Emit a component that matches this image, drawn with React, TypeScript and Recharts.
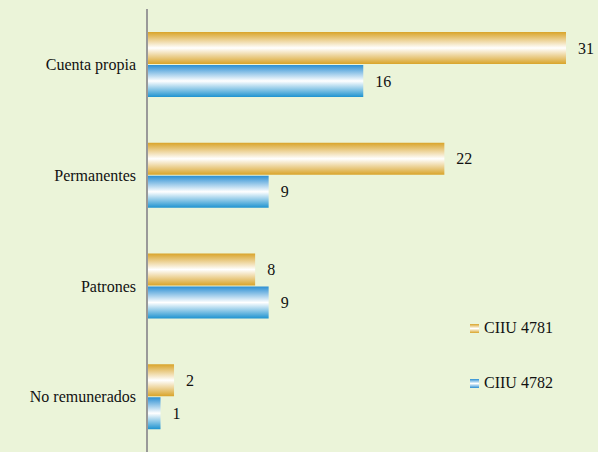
import { Bar, BarChart, LabelList, XAxis, YAxis } from 'recharts'

const categories = ['Cuenta propia', 'Permanentes', 'Patrones', 'No remunerados']
const ciiu4781 = [31, 22, 8, 2]
const ciiu4782 = [16, 9, 9, 1]
const seriesNames = ['CIIU 4781', 'CIIU 4782']
const seriesColors = ['#D9A42A', '#2C8FD3']

const data = categories.map((name, i) => ({
  name,
  a: ciiu4781[i],
  b: ciiu4782[i],
}))

const font = '"Liberation Serif", "DejaVu Serif", serif'

// legend drawn outside the chart so it doesn't shrink the plot
const LegendBox = () => (
  <div style={{ position: 'absolute', left: 470, top: 318, fontFamily: font, fontSize: 16, color: '#111' }}>
    {seriesNames.map((s, i) => (
      <div key={s} style={{ display: 'flex', alignItems: 'center', height: 20, marginBottom: i === 0 ? 35 : 0 }}>
        <div
          style={{
            width: 9,
            height: 9,
            marginRight: 5,
            background: `linear-gradient(${seriesColors[i]}, #fff, ${seriesColors[i]})`,
          }}
        />
        {s}
      </div>
    ))}
  </div>
)

const App = () => (
  <div style={{ position: 'absolute', left: 0, top: 0, width: 598, height: 452, background: '#EBF4D9' }}>
    <BarChart
      width={598}
      height={452}
      data={data}
      layout='vertical'
      barGap={1}
      barSize={32}
      margin={{ top: 9, right: 32, left: 0, bottom: 0 }}
      style={{ fontFamily: font }}>
      <defs>
        <linearGradient id='gOrange' x1='0' y1='0' x2='0' y2='1'>
          <stop offset='0%' stopColor='#D9A42A' />
          <stop offset='50%' stopColor='#FFFFFF' />
          <stop offset='100%' stopColor='#D9A42A' />
        </linearGradient>
        <linearGradient id='gBlue' x1='0' y1='0' x2='0' y2='1'>
          <stop offset='0%' stopColor='#2C8FD3' />
          <stop offset='50%' stopColor='#FFFFFF' />
          <stop offset='100%' stopColor='#1E93D0' />
        </linearGradient>
      </defs>
      <XAxis type='number' domain={[0, 31]} hide />
      <YAxis
        type='category'
        dataKey='name'
        width={147}
        tickLine={false}
        axisLine={{ stroke: '#999', strokeWidth: 2 }}
        tick={{ fontFamily: font, fontSize: 16, fill: '#111' }}
        tickMargin={5}
      />
      <Bar dataKey='a' name={seriesNames[0]} fill='url(#gOrange)' isAnimationActive={false}>
        <LabelList dataKey='a' position='right' offset={12} fontFamily={font} fontSize={16} fill='#111' />
      </Bar>
      <Bar dataKey='b' name={seriesNames[1]} fill='url(#gBlue)' isAnimationActive={false}>
        <LabelList dataKey='b' position='right' offset={12} fontFamily={font} fontSize={16} fill='#111' />
      </Bar>
    </BarChart>
    <LegendBox />
  </div>
)

export default App
